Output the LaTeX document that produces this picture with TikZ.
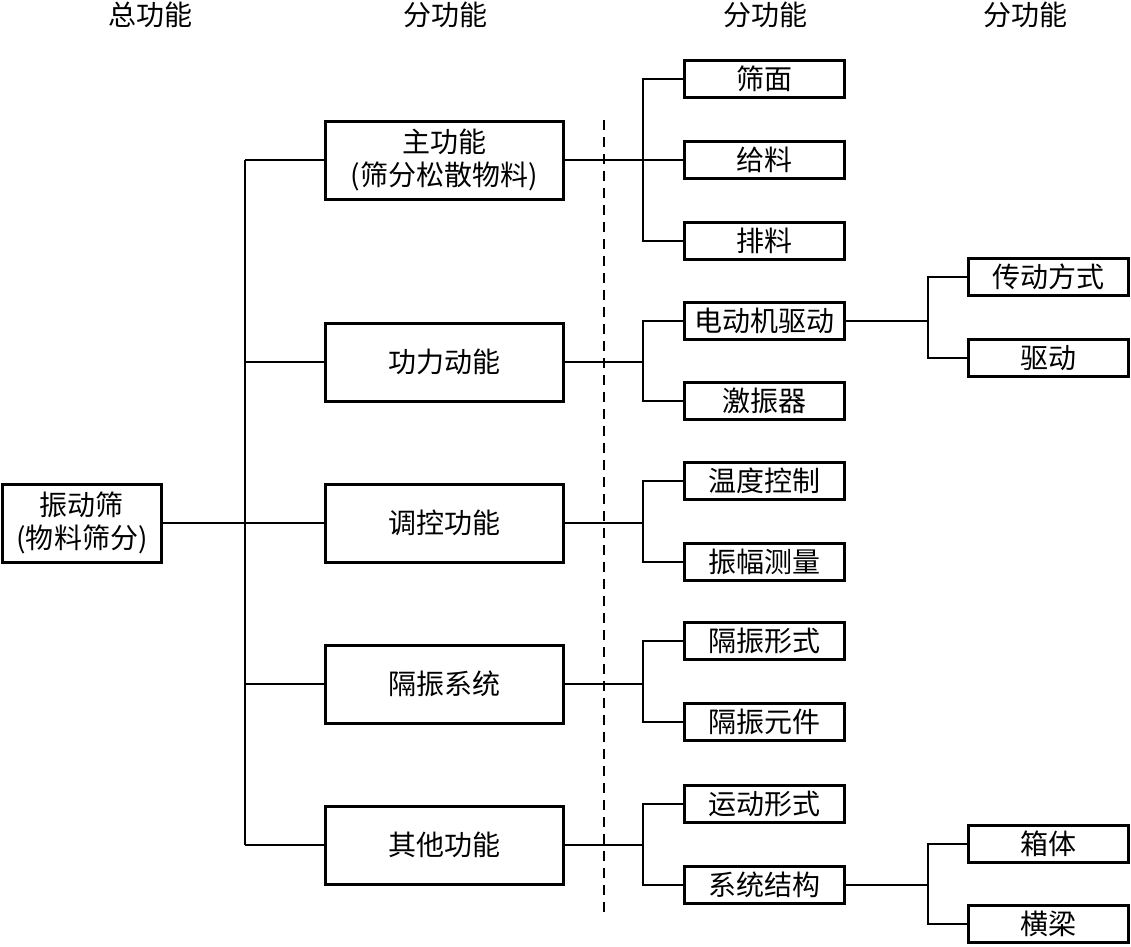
\documentclass[tikz,border=0pt]{standalone}
\usepackage{fontspec}
\newfontfamily\cjk{Noto Sans CJK SC}
\usetikzlibrary{positioning}

\begin{document}
\begin{tikzpicture}[x=1pt,y=-1pt,
  txt/.style={font=\cjk\fontsize{28}{33}\selectfont},
  head/.style={txt,inner sep=0pt},
  box/.style={txt,draw,line width=3pt,minimum width=238pt,minimum height=78pt,inner sep=0pt,align=center},
  leaf/.style={txt,draw,line width=3pt,minimum width=160pt,minimum height=37pt,inner sep=0pt},
  link/.style={line width=1.3pt}]
  \useasboundingbox (0,0) rectangle (1131,946);

  % column titles
  \node[head] (h1) at (150,15) {总功能};
  \node[head] (h2) at (445,15) {分功能};
  \node[head] (h3) at (765,15) {分功能};
  \node[head] (h4) at (1025,15) {分功能};

  % root
  \node[box,minimum width=159pt] (root) at (82,523) {振动筛\\(物料筛分)};

  % second level
  \node[box] (m1) at (444,160) {主功能\\(筛分松散物料)};
  \node[box] (m2) at (444,362) {功力动能};
  \node[box] (m3) at (444,523) {调控功能};
  \node[box] (m4) at (444,684) {隔振系统};
  \node[box] (m5) at (444,845) {其他功能};

  % third level
  \node[leaf] (s1) at (764,79) {筛面};
  \node[leaf] (s2) at (764,160) {给料};
  \node[leaf] (s3) at (764,241) {排料};
  \node[leaf] (s4) at (764,321) {电动机驱动};
  \node[leaf] (s5) at (764,401) {激振器};
  \node[leaf] (s6) at (764,481) {温度控制};
  \node[leaf] (s7) at (764,562) {振幅测量};
  \node[leaf] (s8) at (764,641) {隔振形式};
  \node[leaf] (s9) at (764,722) {隔振元件};
  \node[leaf] (s10) at (764,804) {运动形式};
  \node[leaf] (s11) at (764,885) {系统结构};

  % fourth level
  \node[leaf] (t1) at (1048,277) {传动方式};
  \node[leaf] (t2) at (1048,358) {驱动};
  \node[leaf] (t3) at (1048,844) {箱体};
  \node[leaf] (t4) at (1048,924) {横梁};

  % branch lines
  \coordinate (tk) at (245,0);
  \coordinate (br) at (643,0);
  \coordinate (bq) at (928,0);

  \draw[link] (root.east) -- (m3.west);
  \draw[link] (tk |- m1.west) -- (tk |- m5.west);
  \foreach \m in {m1,m2,m4,m5}
    \draw[link] (tk |- \m.west) -- (\m.west);

  \draw[link] (m1.east) -- (s2.west);
  \draw[link] (s1.west) -- (br |- s1.west) -- (br |- s3.west) -- (s3.west);

  \foreach \p/\a/\b in {m2/s4/s5,m3/s6/s7,m4/s8/s9,m5/s10/s11}{
    \draw[link] (\p.east) -- (br |- \p.east);
    \draw[link] (\a.west) -- (br |- \a.west) -- (br |- \b.west) -- (\b.west);
  }

  \draw[link] (s4.east) -- (bq |- s4.east);
  \draw[link] (t1.west) -- (bq |- t1.west) -- (bq |- t2.west) -- (t2.west);
  \draw[link] (s11.east) -- (bq |- s11.east);
  \draw[link] (t3.west) -- (bq |- t3.west) -- (bq |- t4.west) -- (t4.west);

  % dashed divider
  \draw[line width=1.4pt,dash pattern=on 10pt off 7pt] (604,120) -- (604,915);
\end{tikzpicture}
\end{document}
